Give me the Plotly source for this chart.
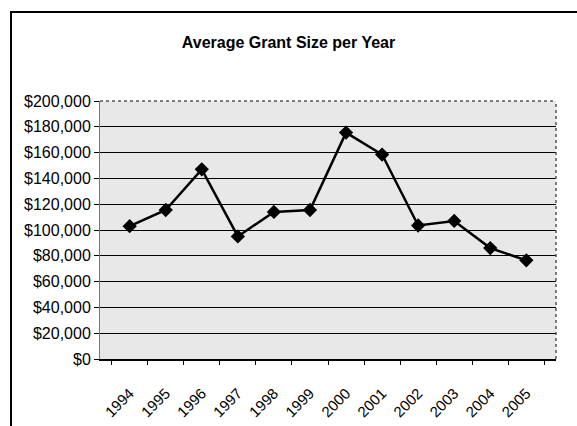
import plotly.graph_objects as go

# data
years = ["1994", "1995", "1996", "1997", "1998", "1999",
         "2000", "2001", "2002", "2003", "2004", "2005"]
avg_grant = [103000, 115500, 147000, 95000, 114000, 115500,
             175500, 158500, 103500, 107000, 86000, 76500]

trace = go.Scatter(
    x=years,
    y=avg_grant,
    mode="lines+markers",
    line=dict(color="black", width=2.5),
    marker=dict(symbol="diamond", size=11, color="black"),
    showlegend=False,
)

fig = go.Figure(data=[trace])

fig.update_layout(
    width=577,
    height=426,
    margin=dict(l=100, r=21, t=101, b=67),
    paper_bgcolor="white",
    plot_bgcolor="#e8e8e8",
    font=dict(family="Liberation Sans, Arial, sans-serif", size=16, color="black"),
    title=dict(
        text="<b>Average Grant Size per Year</b>",
        x=0.5, xanchor="center",
        y=1 - 42 / 426, yanchor="middle",
        font=dict(size=16, color="black"),
    ),
)

fig.update_xaxes(
    type="category",
    automargin=False,
    tickson="boundaries",
    ticks="outside",
    ticklen=4,
    tickcolor="black",
    tickangle=-45,
    ticklabelstandoff=18,
    showgrid=False,
    showline=True,
    linecolor="black",
    linewidth=1.5,
    mirror=False,
    tickfont=dict(size=15),
)

fig.update_yaxes(
    range=[0, 200000],
    automargin=False,
    dtick=20000,
    tickprefix="$",
    tickformat=",",
    ticks="outside",
    ticklen=5,
    tickcolor="black",
    showgrid=True,
    gridcolor="black",
    gridwidth=1,
    showline=True,
    linecolor="#777777",
    linewidth=1,
    zeroline=False,
    tickfont=dict(size=16),
)

# dotted frame on the top and right of the plot area
fig.add_shape(type="line", xref="paper", yref="paper",
              x0=0, x1=1, y0=1, y1=1,
              line=dict(color="#555555", width=1.5, dash="dot"))
fig.add_shape(type="line", xref="paper", yref="paper",
              x0=1, x1=1, y0=0, y1=1,
              line=dict(color="#555555", width=1.5, dash="dot"))

# outer chart border (cut off at right and bottom)
fig.add_shape(type="rect", xref="paper", yref="paper",
              x0=(11 - 100) / 456, x1=1.2,
              y0=-0.5, y1=(359 - 12) / 258,
              line=dict(color="black", width=2))

# drop the default page margin so the chart sits at the window origin
fig.write_html("out.html", config={"displayModeBar": False},
               post_script="document.body.style.margin='0px';")
